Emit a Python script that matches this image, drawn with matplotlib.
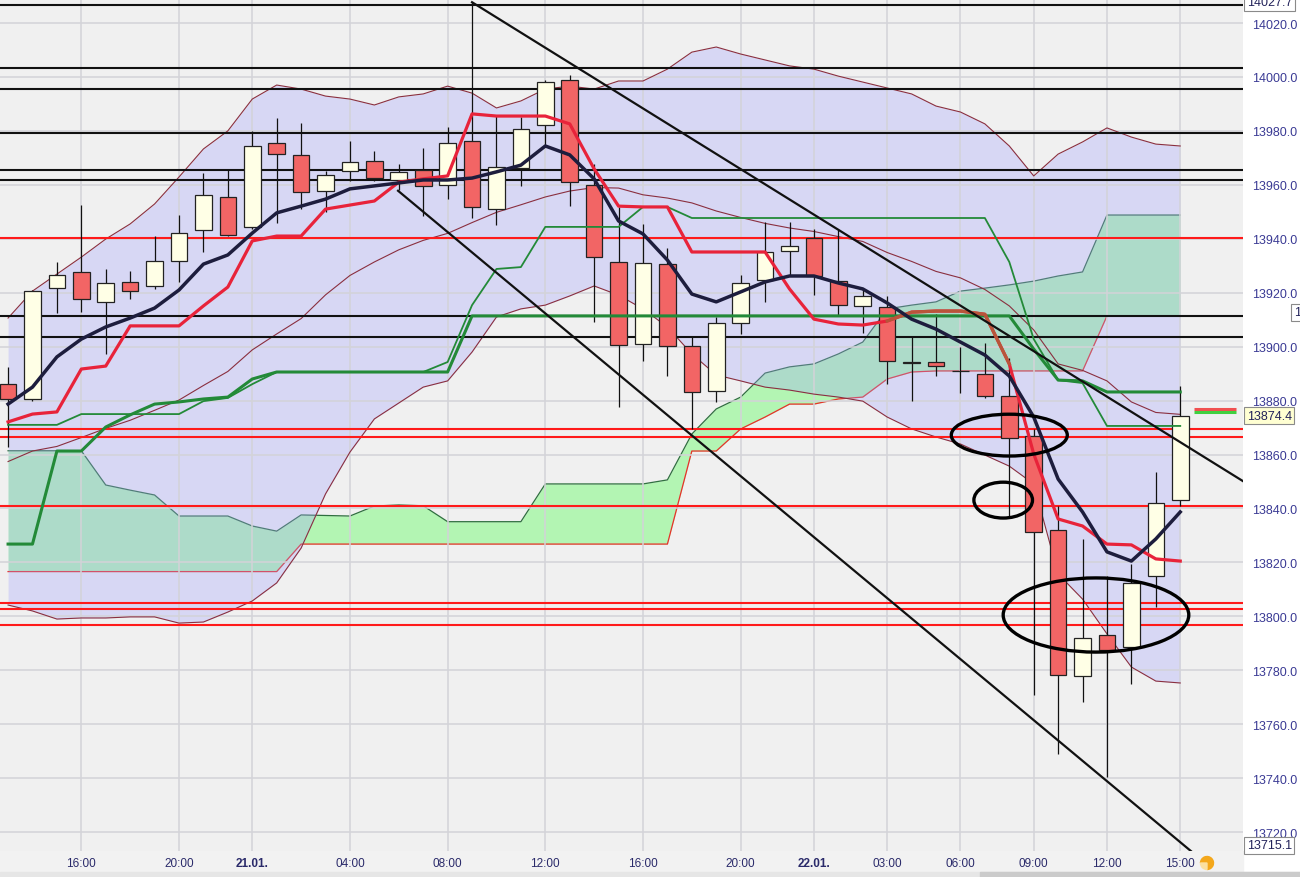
import matplotlib
matplotlib.use("Agg")
import matplotlib.pyplot as plt
import numpy as np
from matplotlib.patches import Ellipse, Wedge, Rectangle

# hourly candles, 20.01. 13:00 .. 22.01. 15:00
opens = [13886.1, 13880.6, 13921.6, 13927.8, 13916.7, 13924.1, 13922.4, 13931.9, 13943.4, 13955.4,
         13944.2, 13975.5, 13971.2, 13957.6, 13965.2, 13968.7, 13961.8, 13965.6, 13960.1, 13976.1,
         13951.0, 13966.2, 13982.2, 13998.9, 13960.0, 13931.5, 13901.0, 13930.6, 13900.1, 13883.7,
         13908.6, 13924.7, 13935.4, 13940.2, 13924.5, 13915.0, 13914.8, 13894.0, 13894.4, 13891.0,
         13889.8, 13881.6, 13866.8, 13832.1, 13778.0, 13793.1, 13788.5, 13814.8, 13843.3]
highs = [13892.5, 13921.1, 13931.3, 13952.5, 13928.8, 13928.0, 13940.9, 13948.8, 13964.4, 13965.6,
         13980.1, 13984.8, 13982.8, 13965.2, 13976.4, 13972.6, 13967.7, 13973.5, 13981.3, 14027.7,
         13985.6, 13985.0, 13999.0, 14000.7, 13967.7, 13951.7, 13945.5, 13936.5, 13903.6, 13910.9,
         13926.6, 13946.3, 13946.3, 13943.6, 13943.4, 13921.4, 13918.9, 13903.5, 13912.0, 13899.7,
         13901.2, 13895.7, 13869.5, 13841.0, 13828.7, 13815.0, 13819.5, 13853.4, 13885.3]
lows = [13862.8, 13880.0, 13912.4, 13912.7, 13897.3, 13917.7, 13921.4, 13923.9, 13935.2, 13940.9,
        13943.6, 13945.8, 13951.0, 13950.0, 13961.5, 13961.5, 13958.0, 13948.6, 13954.7, 13947.6,
        13945.1, 13959.7, 13974.5, 13952.3, 13909.0, 13877.5, 13894.8, 13889.0, 13869.5, 13879.4,
        13904.7, 13916.4, 13926.6, 13919.1, 13911.2, 13905.0, 13886.0, 13880.0, 13889.0, 13883.0,
        13880.8, 13837.2, 13770.8, 13749.0, 13768.1, 13740.3, 13774.9, 13803.4, 13841.0]
closes = [13880.6, 13920.7, 13926.7, 13917.7, 13923.5, 13920.7, 13931.9, 13942.0, 13956.2, 13941.5,
          13974.5, 13971.4, 13957.2, 13963.6, 13968.3, 13962.5, 13964.9, 13959.7, 13975.4, 13951.7,
          13966.5, 13980.7, 13998.0, 13960.9, 13933.1, 13900.6, 13931.0, 13900.1, 13883.3, 13908.6,
          13923.6, 13935.0, 13937.4, 13926.3, 13915.5, 13918.8, 13894.8, 13894.0, 13892.7, 13891.0,
          13881.6, 13866.0, 13831.4, 13778.4, 13791.8, 13787.5, 13812.4, 13842.0, 13874.4]

ma_navy = [13878.7, 13885.0, 13896.2, 13902.8, 13907.3, 13910.6, 13914.3, 13921.0, 13930.6, 13934.0,
           13942.1, 13949.6, 13952.1, 13954.7, 13958.5, 13959.6, 13960.7, 13961.8, 13961.8, 13962.5,
           13964.8, 13967.3, 13974.4, 13971.1, 13962.2, 13946.6, 13941.8, 13932.1, 13919.5, 13916.6,
           13920.3, 13924.0, 13926.2, 13926.2, 13923.6, 13921.4, 13916.2, 13910.2, 13906.5, 13901.7,
           13896.9, 13889.1, 13873.9, 13850.9, 13838.7, 13823.9, 13820.5, 13828.7, 13838.7]
tenkan = [13872.1, 13875.0, 13875.8, 13891.7, 13892.8, 13907.7, 13907.7, 13907.7, 13915.1, 13922.1,
          13939.2, 13941.0, 13941.0, 13951.0, 13952.5, 13954.0, 13961.0, 13962.2, 13963.3, 13986.3,
          13985.5, 13985.5, 13985.5, 13982.6, 13965.9, 13952.1, 13951.8, 13951.8, 13935.1, 13935.1,
          13935.1, 13935.1, 13921.4, 13910.2, 13908.4, 13908.0, 13909.5, 13912.8, 13913.2, 13913.2,
          13912.0, 13893.6, 13860.2, 13836.1, 13833.5, 13826.8, 13826.5, 13821.3, 13820.5]
kijun = [13826.8, 13826.8, 13861.3, 13861.3, 13870.2, 13874.7, 13878.7, 13879.5, 13880.6, 13881.3,
         13888.0, 13890.6, 13890.6, 13890.6, 13890.6, 13890.6, 13890.6, 13890.6, 13890.6, 13911.4,
         13911.4, 13911.4, 13911.4, 13911.4, 13911.4, 13911.4, 13911.4, 13911.4, 13911.4, 13911.4,
         13911.4, 13911.4, 13911.4, 13911.4, 13911.4, 13911.4, 13911.4, 13911.4, 13911.4, 13911.4,
         13911.4, 13911.4, 13899.1, 13887.6, 13887.3, 13883.2, 13883.2, 13883.2, 13883.2]
green_thin = [13871.0, 13871.0, 13871.0, 13875.0, 13875.0, 13875.0, 13875.0, 13875.0, 13879.8, 13881.0,
              13886.1, 13890.6, 13890.6, 13890.6, 13890.6, 13890.6, 13890.6, 13890.6, 13894.3, 13915.4,
              13928.8, 13929.5, 13944.4, 13944.4, 13944.4, 13944.4, 13951.8, 13951.8, 13947.7, 13947.7,
              13947.7, 13947.7, 13947.7, 13947.7, 13947.7, 13947.7, 13947.7, 13947.7, 13947.7, 13947.7,
              13947.7, 13931.4, 13902.8, 13887.6, 13886.5, 13870.6, 13870.6, 13870.6, 13870.6]
span_a = [13861.4, 13861.4, 13861.4, 13861.4, 13848.7, 13846.8, 13845.0, 13837.2, 13837.2, 13837.2,
          13833.5, 13831.6, 13837.6, 13837.4, 13837.2, 13840.9, 13841.3, 13841.0, 13835.1, 13835.1,
          13835.1, 13835.1, 13849.1, 13849.1, 13849.1, 13849.1, 13849.1, 13850.6, 13867.6, 13876.9,
          13881.3, 13890.2, 13892.5, 13893.6, 13897.3, 13901.7, 13914.0, 13915.4, 13916.6, 13920.6,
          13921.7, 13922.9, 13924.3, 13926.2, 13927.7, 13948.8, 13948.8, 13948.8, 13948.8]
span_b = [13816.6] * 12 + [13826.8] * 16 + [13861.3, 13861.3, 13869.5, 13873.9, 13878.7, 13878.7,
          13880.6, 13881.3, 13888.0, 13890.6, 13891.0, 13891.0, 13891.0, 13891.0, 13891.0, 13891.0,
          13891.0, 13911.4, 13911.4, 13911.4, 13911.4]
bb_upper = [13910.6, 13920.6, 13926.9, 13933.2, 13939.9, 13945.5, 13952.9, 13962.9, 13973.3, 13980.0,
            13991.8, 13997.0, 13995.5, 13992.9, 13991.8, 13989.6, 13992.6, 13993.7, 13996.6, 13994.0,
            13988.5, 13991.1, 13995.5, 13996.6, 13995.5, 13998.5, 13998.5, 14002.9, 14009.2, 14011.1,
            14008.5, 14006.3, 14004.1, 14002.9, 14000.3, 13998.1, 13995.9, 13993.7, 13989.2, 13987.0,
            13982.6, 13974.4, 13963.3, 13971.4, 13975.9, 13981.1, 13977.7, 13975.1, 13974.4]
bb_lower = [13804.2, 13802.0, 13799.0, 13799.4, 13799.4, 13799.8, 13799.8, 13797.5, 13797.9, 13801.6,
            13805.7, 13812.4, 13825.3, 13845.4, 13860.9, 13873.2, 13879.1, 13885.0, 13887.3, 13898.0,
            13911.0, 13914.0, 13915.4, 13918.8, 13922.5, 13919.1, 13914.0, 13907.3, 13897.3, 13889.5,
            13887.3, 13885.0, 13883.9, 13882.4, 13881.3, 13879.8, 13873.9, 13869.5, 13866.5, 13863.9,
            13859.8, 13855.7, 13849.1, 13815.7, 13806.4, 13793.5, 13781.2, 13776.0, 13775.3]
bb_mid = [13857.4, 13861.3, 13863.0, 13866.3, 13869.7, 13872.7, 13876.4, 13880.2, 13885.6, 13890.8,
          13898.8, 13904.7, 13910.4, 13919.2, 13926.4, 13931.4, 13935.9, 13939.4, 13942.0, 13946.0,
          13949.8, 13952.6, 13955.5, 13957.7, 13959.0, 13958.8, 13956.3, 13955.1, 13953.3, 13950.3,
          13947.9, 13945.7, 13944.0, 13942.7, 13940.8, 13939.0, 13934.9, 13931.6, 13927.9, 13925.5,
          13921.2, 13915.1, 13906.2, 13893.6, 13891.2, 13887.3, 13879.5, 13875.6, 13874.9]

black_levels = [14026.5, 14003.3, 13995.5, 13979.3, 13965.5, 13961.8, 13911.4, 13903.6]
red_levels = [13940.3, 13869.5, 13866.5, 13840.9, 13805.0, 13802.7, 13796.8]

# trend lines: (bar, price) anchors
trend_upper_x = [19, 50.7]
trend_upper_y = [14027.7, 13849.4]
trend_lower_x = [15.97, 48.5]
trend_lower_y = [13957.8, 13712.5]

# hand drawn ellipses: centre bar, centre price, width (bars), height (points)
ell_x = [41.0, 40.75, 44.55]
ell_y = [13867.2, 13843.1, 13800.5]
ell_w = [4.75, 2.4, 7.6]
ell_h = [15.5, 13.3, 27.5]

tick_bars = [3, 7, 10, 14, 18, 22, 26, 30, 33, 36, 39, 42, 45, 48]
tick_labels = ["16:00", "20:00", "21.01.", "04:00", "08:00", "12:00", "16:00", "20:00",
               "22.01.", "03:00", "06:00", "09:00", "12:00", "15:00"]

x = np.arange(len(closes))
opens = np.array(opens)
closes = np.array(closes)

fig = plt.figure(figsize=(13, 8.78), dpi=100)
fig.patch.set_facecolor("white")
ax = fig.add_axes([0, 26 / 878, 1243 / 1300, 852 / 878])
ax.set_facecolor("#f0f0f0")
ax.set_xlim(-0.33, 50.57)
ax.set_ylim(13713.0, 14028.9)
for s in ax.spines.values():
    s.set_visible(False)

# grid
ax.set_yticks(np.arange(13720, 14021, 20))
ax.set_xticks(tick_bars)
ax.set_xticklabels(tick_labels)
ax.grid(True, color="#d3d3d8", lw=1.1)
ax.yaxis.tick_right()
ax.yaxis.set_major_formatter(matplotlib.ticker.FormatStrFormatter("%.1f"))
ax.tick_params(axis="y", length=0, pad=6.5, labelsize=9, labelcolor="#3a3a94")
ax.tick_params(axis="x", length=0, pad=4.5, labelsize=8.5, labelcolor="#2a2a6a")
for lab in ax.get_xticklabels():
    if lab.get_text().endswith("."):
        lab.set_fontweight("bold")
for lab in ax.get_xticklabels() + ax.get_yticklabels():
    lab.set_family(["Liberation Sans", "DejaVu Sans"])

# ichimoku cloud, then the bollinger band as a translucent overlay
ax.fill_between(x, span_a, span_b, color="#b3f5b3", lw=0, zorder=0.5)
ax.plot(x, span_a, color="#2f6f3f", lw=0.9, zorder=0.55)
ax.plot(x, span_b, color="#e8302a", lw=0.9, zorder=0.55)
ax.fill_between(x, bb_upper, bb_lower, color="#a0a0ff", alpha=0.3, lw=0, zorder=0.6)
for band in (bb_upper, bb_lower, bb_mid):
    ax.plot(x, band, color="#8a2f3f", lw=0.8, zorder=3)

# horizontal levels
for lv in black_levels:
    ax.axhline(lv, color="#111111", lw=1.5, zorder=4)
for lv in red_levels:
    ax.axhline(lv, color="#ff1a1a", lw=1.5, zorder=4)

# candles
up = closes >= opens
body_lo = np.minimum(opens, closes)
body_h = np.maximum(np.abs(closes - opens), 0.15)
ax.vlines(x, lows, highs, color="#111111", lw=0.9, zorder=5.9)
ax.bar(x, body_h, bottom=body_lo, width=0.68,
       color=np.where(up, "#ffffe6", "#f26565"), edgecolor="#222222", lw=0.9, zorder=6)

# indicator lines
ax.plot(x, green_thin, color="#238a38", lw=1.3, zorder=7)
ax.plot(x, kijun, color="#238a38", lw=2.2, zorder=7.1)
ax.plot(x, tenkan, color="#e8233a", lw=2.3, zorder=7.2)
ax.plot(x[36:42], tenkan[36:42], color="#b8553a", lw=2.3, zorder=7.3)
ax.plot(x, ma_navy, color="#1d1d3d", lw=2.5, zorder=7.4)

# trend lines
ax.plot(trend_upper_x, trend_upper_y, color="#111111", lw=1.6, zorder=8)
ax.plot(trend_lower_x, trend_lower_y, color="#111111", lw=1.6, zorder=8)

for ex, ey, ew, eh in zip(ell_x, ell_y, ell_w, ell_h):
    ax.add_patch(Ellipse((ex, ey), ew, eh, fill=False, ec="black", lw=2.4, zorder=9))

# last price marker and value boxes
ax.hlines([13876.9], 48.55, 50.3, color="#f05050", lw=2.2, zorder=8)
ax.hlines([13875.6], 48.55, 50.3, color="#40d040", lw=2.2, zorder=8)
ytr = ax.get_yaxis_transform()
box_font = dict(fontsize=9, color="#22225a", family=["Liberation Sans", "DejaVu Sans"])
ax.text(1.003, closes[-1], "%.1f" % closes[-1], transform=ytr, va="center", ha="left",
        bbox=dict(boxstyle="square,pad=0.2", fc="#ffffd2", ec="#8a8a8a", lw=0.8),
        clip_on=False, zorder=10, **box_font)
ax.text(1.003, max(highs), "%.1f" % max(highs), transform=ytr, va="center", ha="left",
        bbox=dict(boxstyle="square,pad=0.2", fc="white", ec="#8a8a8a", lw=0.8),
        clip_on=False, zorder=10, **box_font)
ax.text(1.003, min(lows) - 25.2, "13715.1", transform=ytr, va="center", ha="left",
        bbox=dict(boxstyle="square,pad=0.2", fc="white", ec="#8a8a8a", lw=0.8),
        clip_on=False, zorder=10, **box_font)
ax.text(1.041, 13912.8, "1", transform=ytr, va="center", ha="left",
        bbox=dict(boxstyle="square,pad=0.2", fc="white", ec="#8a8a8a", lw=0.8),
        clip_on=False, zorder=10, **box_font)

# bottom strip, scrollbar and the small clock icon
fig.add_artist(Rectangle((0, 0.05), 12.43, 0.21, transform=fig.dpi_scale_trans,
                         color="#f2f2f2", zorder=-1))
fig.add_artist(Rectangle((0, 0), 13, 0.05, transform=fig.dpi_scale_trans, color="#e6e6e6"))
fig.add_artist(Rectangle((9.8, 0), 3.2, 0.05, transform=fig.dpi_scale_trans, color="#cbcbcb"))
fig.add_artist(Wedge((12.07, 0.14), 0.065, 270, 180, transform=fig.dpi_scale_trans,
                     color="#f4a81c"))
fig.add_artist(Wedge((12.07, 0.14), 0.065, 180, 270, transform=fig.dpi_scale_trans,
                     color="#fbe0a0"))

fig.savefig("out.png", dpi=100)
